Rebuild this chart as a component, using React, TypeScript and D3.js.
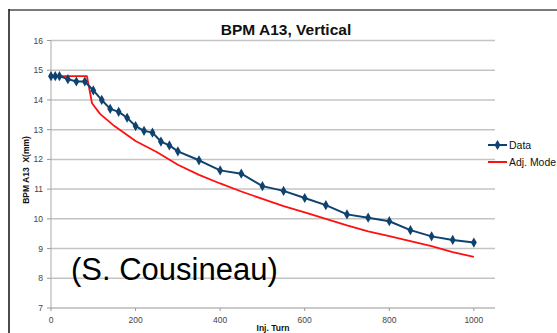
import React from "react";
import * as d3 from "d3";

const dataTurns = [0, 10, 20, 40, 60, 80, 100, 120, 140, 160, 180, 200, 220, 240, 260, 280, 300, 350, 400, 450, 500, 550, 600, 650, 700, 750, 800, 850, 900, 950, 1000];
const dataValues = [14.8, 14.8, 14.8, 14.7, 14.62, 14.62, 14.32, 14.0, 13.7, 13.6, 13.4, 13.12, 12.96, 12.9, 12.6, 12.47, 12.27, 11.97, 11.63, 11.52, 11.1, 10.94, 10.7, 10.46, 10.15, 10.04, 9.92, 9.62, 9.41, 9.29, 9.2];
const modelTurns = [0, 85, 97, 116, 150, 200, 250, 300, 350, 400, 450, 500, 550, 600, 650, 700, 750, 800, 850, 900, 950, 1000];
const modelValues = [14.8, 14.8, 13.89, 13.53, 13.12, 12.62, 12.25, 11.82, 11.48, 11.19, 10.92, 10.67, 10.43, 10.22, 10.0, 9.78, 9.58, 9.42, 9.25, 9.08, 8.88, 8.72];
const xTicks = [0, 200, 400, 600, 800, 1000];
const yTicks = [7, 8, 9, 10, 11, 12, 13, 14, 15, 16];
const title = "BPM A13, Vertical";
const xLabel = "Inj. Turn";
const yLabel = "BPM A13  X(mm)";
const seriesNames = ["Data", "Adj. Mode"];
const credit = "(S. Cousineau)";

const W = 557;
const H = 333;
const font = "'Liberation Sans', Arial, sans-serif";

export default function App() {
  const x = d3.scaleLinear().domain([0, 1050]).range([51, 495]);
  const y = d3.scaleLinear().domain([7, 16]).range([308, 40.5]);
  const line = d3.line<[number, number]>().x((d) => x(d[0])).y((d) => y(d[1]));
  const dataPts: [number, number][] = dataTurns.map((t, i) => [t, dataValues[i]]);
  const modelPts: [number, number][] = modelTurns.map((t, i) => [t, modelValues[i]]);
  const blue = "#0e426f";
  const red = "#ff1010";
  const diamond = d3.symbol().type(d3.symbolDiamond).size(30)() as string;
  const [x0, x1] = x.range();

  return (
    <svg width={W} height={H} style={{ position: "absolute", left: 0, top: 0, background: "#fff" }} fontFamily={font}>
      <rect x={0} y={0} width={W} height={H} fill="#fff" />
      {/* frame */}
      <line x1={9} x2={W} y1={10} y2={10} stroke="#7a7a7a" strokeWidth={2} />
      <line x1={9} x2={9} y1={9} y2={H} stroke="#111" strokeWidth={1.5} />
      {/* title */}
      <text x={286} y={35} textAnchor="middle" fontSize={15.5} fontWeight="bold" fill="#111">{title}</text>
      {/* gridlines */}
      {yTicks.filter((t) => t > 7).map((t) => (
        <line key={t} x1={x0} x2={x1} y1={y(t)} y2={y(t)} stroke="#c4c4c4" strokeWidth={1.5} />
      ))}
      {/* axes */}
      <line x1={x0} x2={x0} y1={y(16)} y2={y(7)} stroke="#b8b8b8" strokeWidth={1.2} />
      <line x1={x0} x2={x1} y1={y(7)} y2={y(7)} stroke="#b8b8b8" strokeWidth={1.5} />
      {yTicks.map((t) => (
        <g key={t}>
          <line x1={x0 - 4} x2={x0} y1={y(t)} y2={y(t)} stroke="#999" strokeWidth={1} />
          <text x={43} y={y(t) + 3} textAnchor="end" fontSize={8.5} fill="#444">{t}</text>
        </g>
      ))}
      {xTicks.map((t) => (
        <g key={t}>
          <line x1={x(t)} x2={x(t)} y1={y(7)} y2={y(7) + 3} stroke="#999" strokeWidth={1} />
          <text x={x(t)} y={322.5} textAnchor="middle" fontSize={8.5} fill="#444">{t}</text>
        </g>
      ))}
      <text x={273} y={331} textAnchor="middle" fontSize={8.5} fontWeight="bold" fill="#111">{xLabel}</text>
      <text transform="translate(29,170) rotate(-90)" textAnchor="middle" fontSize={8.5} fontWeight="bold" fill="#111" style={{ whiteSpace: "pre" }}>{yLabel}</text>
      {/* credit */}
      <text x={71} y={280} fontSize={31} fill="#000">{credit}</text>
      {/* series */}
      <path d={line(modelPts) || ""} fill="none" stroke={red} strokeWidth={1.8} strokeLinejoin="round" />
      <path d={line(dataPts) || ""} fill="none" stroke={blue} strokeWidth={2} strokeLinejoin="round" />
      {dataPts.map((p, i) => (
        <path key={i} d={diamond} transform={`translate(${x(p[0])},${y(p[1])})`} fill={blue} />
      ))}
      {/* legend */}
      <line x1={488} x2={507} y1={145} y2={145} stroke={blue} strokeWidth={2} />
      <path d={diamond} transform="translate(497.5,145)" fill={blue} />
      <text x={509} y={148.5} fontSize={10.5} fill="#111">{seriesNames[0]}</text>
      <line x1={488} x2={507} y1={162} y2={162} stroke={red} strokeWidth={2} />
      <text x={509} y={165.5} fontSize={10.5} fill="#111" textLength={47} lengthAdjust="spacingAndGlyphs">{seriesNames[1]}</text>
    </svg>
  );
}
